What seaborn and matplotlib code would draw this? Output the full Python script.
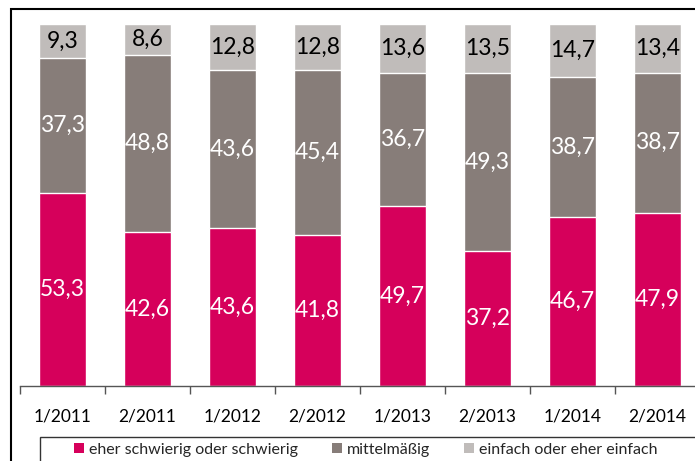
import numpy as np
import pandas as pd
import matplotlib.pyplot as plt
import seaborn as sns
from matplotlib.patches import Patch, Rectangle

## data
halbjahre = ["1/2011", "2/2011", "1/2012", "2/2012", "1/2013", "2/2013", "1/2014", "2/2014"]
schwierig = [53.3, 42.6, 43.6, 41.8, 49.7, 37.2, 46.7, 47.9]
mittel = [37.3, 48.8, 43.6, 45.4, 36.7, 49.3, 38.7, 38.7]
einfach = [9.3, 8.6, 12.8, 12.8, 13.6, 13.5, 14.7, 13.4]
serien = ["eher schwierig oder schwierig", "mittelmäßig", "einfach oder eher einfach"]
farben = ["#D6005B", "#877D79", "#C0BCBA"]

df = pd.DataFrame({"halbjahr": halbjahre, "s1": schwierig, "s2": mittel, "s3": einfach})
df["c1"] = df["s1"]
df["c2"] = df["s1"] + df["s2"]
df["c3"] = df["c2"] + df["s3"]

sns.set_style("white")
plt.rcParams["font.family"] = ["Lato", "DejaVu Sans"]

fig = plt.figure(figsize=(6.95, 4.61), dpi=100)
W, H = 695, 461
ax = fig.add_axes([20 / W, 75 / H, 680 / W, 362 / H])

##stack by overdrawing cumulative totals
sns.barplot(data=df, x="halbjahr", y="c3", color=farben[2], width=0.55, ax=ax, saturation=1)
sns.barplot(data=df, x="halbjahr", y="c2", color=farben[1], width=0.55, ax=ax, saturation=1)
sns.barplot(data=df, x="halbjahr", y="c1", color=farben[0], width=0.55, ax=ax, saturation=1)

fs = 16.5
for i in range(len(df)):
    ax.text(i, df["s1"][i] / 2, f"{df['s1'][i]:.1f}".replace(".", ","),
            ha="center", va="center", color="white", fontsize=fs)
    ax.text(i, df["c1"][i] + df["s2"][i] / 2, f"{df['s2'][i]:.1f}".replace(".", ","),
            ha="center", va="center", color="white", fontsize=fs)
    ax.text(i, df["c2"][i] + df["s3"][i] / 2, f"{df['s3'][i]:.1f}".replace(".", ","),
            ha="center", va="center", color="black", fontsize=fs)

ax.set_ylim(0, 100)
ax.set_xlim(-0.5, 7.5)
ax.set_xlabel("")
ax.set_ylabel("")
ax.set_yticks([])
for s in ["top", "right", "left"]:
    ax.spines[s].set_visible(False)
ax.spines["bottom"].set_color("#555555")
ax.spines["bottom"].set_linewidth(1)
ax.set_xticks(np.arange(-0.5, 8, 1), minor=True)
ax.tick_params(axis="x", which="minor", bottom=True, length=6, width=1, color="#555555", direction="out")
ax.tick_params(axis="x", which="major", length=0, pad=16, labelsize=12.5, labelcolor="black")

handles = [Patch(facecolor=c, edgecolor="none") for c in farben]
leg = fig.legend(handles, serien, loc="center", ncol=3,
                 bbox_to_anchor=(366 / W, 1 - 450 / H),
                 frameon=False, fontsize=11.5, handlelength=0.6,
                 handleheight=0.6, handletextpad=0.35, borderpad=0, borderaxespad=0,
                 columnspacing=2.1)

##legend frame, spans the plot width like the original
fig.patches.append(Rectangle((40 / W, 1 - 475 / H), 700 / W, 38 / H, transform=fig.transFigure,
                             fill=False, edgecolor="#333333", linewidth=1))

##outer chart frame
fig.patches.append(Rectangle((11 / W, -0.1), 1, 1 - 9 / H + 0.1, transform=fig.transFigure,
                             fill=False, edgecolor="black", linewidth=1.5))

fig.savefig("out.png", dpi=100)
